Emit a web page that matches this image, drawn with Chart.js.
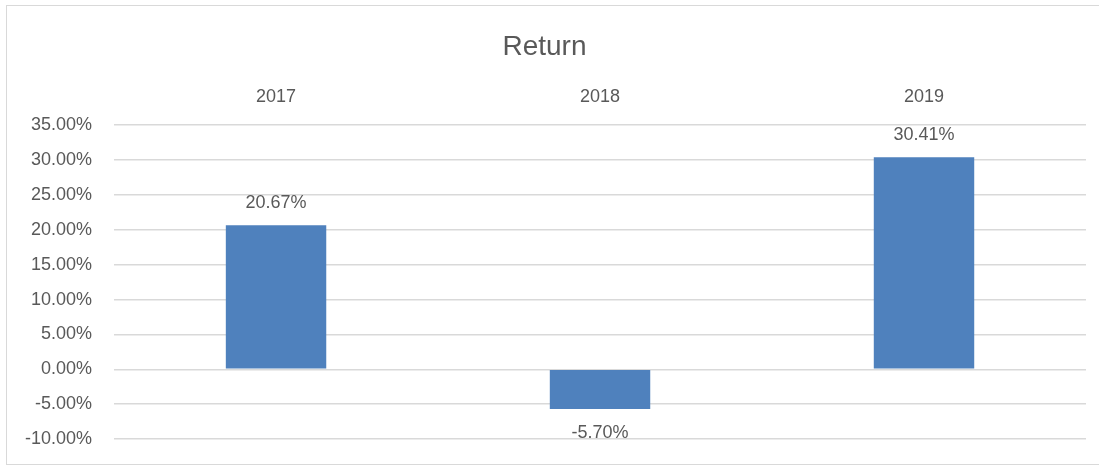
<!DOCTYPE html>
<html>
<head>
<meta charset="utf-8">
<script src="https://cdn.jsdelivr.net/npm/chart.js@4.4.1/dist/chart.umd.min.js"></script>
<style>
    html, body { margin: 0; padding: 0; background: #fff; overflow: hidden; }
    #frame { position: absolute; left: 6px; top: 5px; width: 1120px; height: 458px; border: 1px solid #d9d9d9; }
    #wrap { position: absolute; left: 0; top: 0; width: 1099px; height: 466px; }
</style>
</head>
<body>
<div id="frame"></div>
<div id="wrap"><canvas id="return_chart"></canvas></div>
<script>
// Yearly returns, in percent
const years = ['2017', '2018', '2019'];
const returns = [20.67, -5.70, 30.41];

const y_min = -10;
const y_max = 35;
const y_step = 5;

const text_color = '#595959';
const font_family = '"Liberation Sans", Arial, sans-serif';

// Draws the value over (or under) every bar, using the bar elements' positions
const value_labels = {
    id: 'value_labels',
    afterDatasetsDraw(chart) {
        let ctx = chart.ctx;
        let meta = chart.getDatasetMeta(0);
        ctx.save();
        ctx.font = '18px ' + font_family;
        ctx.fillStyle = text_color;
        ctx.textAlign = 'center';
        ctx.textBaseline = 'middle';
        meta.data.forEach(function (bar, i) {
            let value = returns[i];
            let y = value >= 0 ? bar.y - 22 : bar.y + 24;
            ctx.fillText(value.toFixed(2) + '%', bar.x, y);
        });
        ctx.restore();
    }
};

let context = document.getElementById('return_chart').getContext('2d');

let return_chart = new Chart(context, {
    type: 'bar',
    data: {
        labels: years,
        datasets: [{
            label: 'Return',
            data: returns,
            backgroundColor: '#4F81BD',
            borderWidth: 0,
            barPercentage: 0.31,
            categoryPercentage: 1
        }]
    },
    options: {
        responsive: true,
        maintainAspectRatio: false,
        animation: false,
        layout: {
            padding: { left: 3, right: 13, top: 0, bottom: 27 }
        },
        plugins: {
            legend: { display: false },
            tooltip: { enabled: false },
            title: {
                display: true,
                text: 'Return',
                color: text_color,
                font: { family: font_family, size: 28, weight: 'normal' },
                padding: { top: 30, bottom: 6 }
            }
        },
        scales: {
            x: {
                position: 'top',
                grid: { display: false, drawTicks: false },
                border: { display: false },
                ticks: {
                    color: text_color,
                    font: { family: font_family, size: 18 },
                    padding: 17
                }
            },
            y: {
                min: y_min,
                max: y_max,
                grid: { color: '#d9d9d9', lineWidth: 1.5, drawTicks: false },
                border: { display: false },
                ticks: {
                    stepSize: y_step,
                    color: text_color,
                    font: { family: font_family, size: 18 },
                    padding: 22,
                    callback: function (value) { return value.toFixed(2) + '%'; }
                },
                // the tick padding would otherwise also be reserved below the plot
                afterFit: function (scale) {
                    scale.paddingTop = 0;
                    scale.paddingBottom = 0;
                }
            }
        }
    },
    plugins: [value_labels]
});
</script>
</body>
</html>
